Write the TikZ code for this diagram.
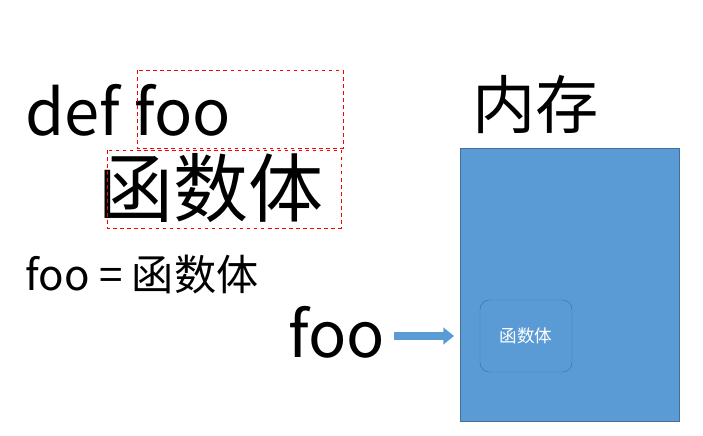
\documentclass[tikz,border=0pt]{standalone}
\usepackage{fontspec}
\setmainfont{Noto Sans CJK SC}
\usetikzlibrary{arrows.meta}

\tikzset{
  big/.style={font=\fontsize{54}{54}\selectfont, inner sep=0pt},
  redbox/.style={draw=red, dashed, thick},
}

\begin{document}
\begin{tikzpicture}[x=0.03cm, y=-0.03cm]
\useasboundingbox (0,0) rectangle (703,435);

%code text
\node[big, anchor=base west] (def) at (25,135) {def foo};
\node[inner sep=0pt, font=\fontsize{64}{64}\selectfont] (body) at (211,188) {函数体};
\node[inner sep=0pt, anchor=base west, font=\fontsize{36}{36}\selectfont] (assign) at (25,290) {foo = 函数体};
\node[big, anchor=base west] (foo) at (288,357) {foo};

%dashed boxes
\draw[redbox] (137,70) rectangle (343,148);
\draw[redbox] (107,150) rectangle (341,228);

%memory
\node[big, anchor=base west] (mem) at (472,128) {内存};
\draw[fill={rgb,255:red,91;green,155;blue,213}, draw={rgb,255:red,65;green,113;blue,156}] (460,148) rectangle (679,421);
\node[draw={rgb,255:red,65;green,113;blue,156}, rounded corners=8pt, minimum width=92*0.03cm, minimum height=72*0.03cm,
      text=white, font=\fontsize{15}{15}\selectfont] (fbody) at (526,336) {函数体};

%arrow
\draw[line width=6pt, draw={rgb,255:red,91;green,155;blue,213}, -{Triangle[length=9pt,width=14pt]}]
  ([xshift=8pt]foo.east |- fbody.west) -- ([xshift=-22pt]fbody.west);
\end{tikzpicture}
\end{document}
